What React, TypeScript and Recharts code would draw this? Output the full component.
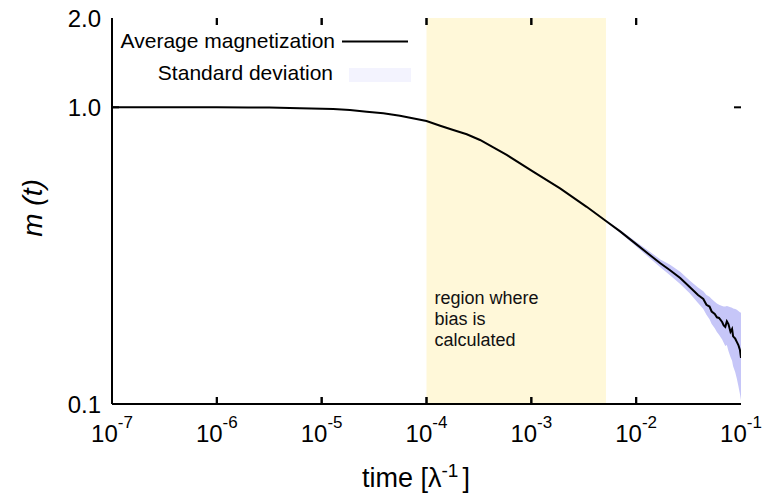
import React from 'react';
import { ComposedChart, Line, Area, Scatter, XAxis, YAxis, ReferenceArea, ReferenceLine, Legend } from 'recharts';

const times = [1e-7, 3.16e-7, 1e-6, 2e-6, 3.16e-6, 6.21e-6, 1.29e-5, 1.86e-5, 2.69e-5, 3.87e-5, 5.58e-5, 1e-4, 1.35e-4, 1.8e-4, 2.42e-4, 3.24e-4, 4.34e-4, 5.82e-4, 1.04e-3, 1.88e-3, 3.37e-3, 5.15e-3, 7.08e-3, 9.4e-3, 1.35e-2, 1.7e-2, 2.09e-2, 2.63e-2, 3.24e-2, 3.89e-2, 4.37e-2, 4.68e-2, 5.01e-2, 5.25e-2, 5.62e-2, 5.89e-2, 6.17e-2, 6.61e-2, 6.84e-2, 7.08e-2, 7.33e-2, 7.59e-2, 7.94e-2, 8.22e-2, 8.41e-2, 8.81e-2, 9.12e-2, 9.44e-2, 9.77e-2, 1e-1];
const meanM = [1.0, 1.0, 1.0, 0.999, 0.998, 0.993, 0.987, 0.979, 0.966, 0.955, 0.937, 0.899, 0.867, 0.839, 0.811, 0.776, 0.733, 0.691, 0.607, 0.533, 0.462, 0.414, 0.381, 0.352, 0.318, 0.298, 0.283, 0.266, 0.248, 0.233, 0.226, 0.216, 0.213, 0.205, 0.201, 0.196, 0.195, 0.189, 0.184, 0.182, 0.19, 0.186, 0.175, 0.179, 0.169, 0.166, 0.162, 0.158, 0.152, 0.143];
const bandLow = [1.0, 1.0, 1.0, 0.999, 0.998, 0.993, 0.987, 0.979, 0.966, 0.955, 0.937, 0.899, 0.867, 0.839, 0.811, 0.776, 0.733, 0.691, 0.607, 0.533, 0.462, 0.412, 0.377, 0.346, 0.31, 0.289, 0.272, 0.254, 0.236, 0.219, 0.209, 0.2, 0.193, 0.186, 0.18, 0.175, 0.171, 0.165, 0.161, 0.157, 0.158, 0.151, 0.144, 0.14, 0.134, 0.128, 0.122, 0.115, 0.108, 0.103];
const bandHigh = [1.0, 1.0, 1.0, 0.999, 0.998, 0.993, 0.987, 0.979, 0.966, 0.955, 0.937, 0.899, 0.867, 0.839, 0.811, 0.776, 0.733, 0.691, 0.607, 0.533, 0.462, 0.416, 0.385, 0.358, 0.326, 0.307, 0.295, 0.279, 0.261, 0.247, 0.24, 0.233, 0.23, 0.226, 0.221, 0.218, 0.216, 0.214, 0.213, 0.213, 0.214, 0.213, 0.212, 0.211, 0.21, 0.209, 0.208, 0.206, 0.204, 0.203];

const xTicks = [1e-7, 1e-6, 1e-5, 1e-4, 1e-3, 1e-2, 1e-1];
const xTickExps = ['-7', '-6', '-5', '-4', '-3', '-2', '-1'];
const yTicks = [0.1, 1, 2];
const yTickLabels = ['0.1', '1.0', '2.0'];
const xDomain = [1e-7, 1e-1];
const yDomain = [0.1, 2];
const biasRegion = [1e-4, 5.15e-3];
const legendNames = ['Average magnetization', 'Standard deviation'];
const regionLines = ['region where', 'bias is', 'calculated'];

const data = times.map((t, i) => ({ t, m: meanM[i], band: [bandLow[i], bandHigh[i]] }));
const xTickMarks = xTicks.slice(1, -1).flatMap((v) => [
  { t: v, m: yDomain[0], side: 'bottom' },
  { t: v, m: yDomain[1], side: 'top' },
]);

const FONT = '"Liberation Sans", Arial, Helvetica, sans-serif';
const TICK_LEN = 7;
const TICK_W = 2;

const BottomTick = (props: any) => {
  const { x, y, payload } = props;
  const i = xTicks.indexOf(payload.value);
  return (
    <text x={x} y={y + 38} textAnchor="middle" fontSize={24} fontFamily={FONT} fill="#000">
      <tspan>10</tspan>
      <tspan dy={-14} fontSize={17}>{xTickExps[i]}</tspan>
    </text>
  );
};

const LeftTick = (props: any) => {
  const { x, y, payload } = props;
  const i = yTicks.indexOf(payload.value);
  return (
    <text x={x - 11} y={y + 8.5} textAnchor="end" fontSize={24} fontFamily={FONT} fill="#000">
      {yTickLabels[i]}
    </text>
  );
};

const XTickMark = (props: any) => {
  const { cx, cy, payload } = props;
  if (typeof cx !== 'number' || typeof cy !== 'number') return <g />;
  const dir = payload && payload.side === 'top' ? 1 : -1;
  return <rect x={cx - TICK_W / 2} y={dir > 0 ? cy : cy - TICK_LEN} width={TICK_W} height={TICK_LEN} fill="#000" />;
};

// zero-width reference area at a tick value: draw inward marks at its top and bottom
const XTickArea = (props: any) => {
  const x = Number(props.x);
  const y = Number(props.y);
  const h = Number(props.height);
  if ([x, y, h].some((v) => isNaN(v))) return <g />;
  const top = Math.min(y, y + h);
  const bot = Math.max(y, y + h);
  return (
    <g>
      <rect x={x - TICK_W / 2} y={top} width={TICK_W} height={TICK_LEN} fill="#000" />
      <rect x={x - TICK_W / 2} y={bot - TICK_LEN} width={TICK_W} height={TICK_LEN} fill="#000" />
    </g>
  );
};

const YTickPair = (props: any) => {
  const n = [props.x1, props.y1, props.x2, props.y2].map((v: any) => Number(v));
  if (n.some((v) => isNaN(v))) return null;
  const [ax, ay, bx] = n;
  const left = Math.min(ax, bx);
  const right = Math.max(ax, bx);
  return (
    <g>
      <rect x={left} y={ay - TICK_W / 2} width={TICK_LEN} height={TICK_W} fill="#000" />
      <rect x={right - TICK_LEN} y={ay - TICK_W / 2} width={TICK_LEN} height={TICK_W} fill="#000" />
    </g>
  );
};

const XLabel = (props: any) => {
  const vb = props.viewBox || { x: 112, y: 404, width: 629 };
  return (
    <text x={vb.x + 250} y={vb.y + 83} textAnchor="start" fontSize={27} fontFamily={FONT} fill="#000">
      <tspan>time [λ</tspan>
      <tspan dy={-10} fontSize={19}>-1</tspan>
      <tspan dy={10} dx={4}>]</tspan>
    </text>
  );
};

const YLabel = (props: any) => {
  const vb = props.viewBox || { x: 0, y: 18, width: 112, height: 386 };
  const cx = vb.x + 32;
  const cy = vb.y + vb.height / 2 - 3;
  return (
    <text x={cx} y={cy} transform={`rotate(-90 ${cx} ${cy})`} textAnchor="middle" dominantBaseline="central" fontSize={28} fontStyle="italic" fontFamily={FONT} fill="#000">
      m (t)
    </text>
  );
};

const RegionLabel = (props: any) => {
  const vb = props.viewBox || { x: 426, y: 18 };
  return (
    <text x={vb.x + 8} y={vb.y + 286} fontSize={18} fontFamily={FONT} fill="#111">
      {regionLines.map((s, i) => (
        <tspan key={i} x={vb.x + 8} dy={i === 0 ? 0 : 21}>{s}</tspan>
      ))}
    </text>
  );
};

const LegendContent = () => (
  <svg width={762} height={100} style={{ display: 'block' }}>
    <text x={335} y={48} textAnchor="end" fontSize={21} fontFamily={FONT} fill="#000">{legendNames[0]}</text>
    <line x1={342} x2={408} y1={41.5} y2={41.5} stroke="#000" strokeWidth={2} />
    <text x={333} y={80} textAnchor="end" fontSize={21} fontFamily={FONT} fill="#000">{legendNames[1]}</text>
    <rect x={349} y={68} width={62} height={14} fill="#f3f3fe" />
  </svg>
);

const AXIS_LINE = { stroke: '#000', strokeWidth: 2 };

export default function App() {
  return (
    <div style={{ position: 'absolute', left: 0, top: 0, width: 762, height: 494, overflow: 'hidden', background: '#fff' }}>
      <ComposedChart width={762} height={494} data={data} margin={{ top: 18, right: 21, bottom: 0, left: 0 }}>
        <ReferenceArea
          xAxisId="bottom"
          yAxisId="left"
          x1={biasRegion[0]}
          x2={biasRegion[1]}
          y1={yDomain[0]}
          y2={yDomain[1]}
          fill="#fff8d9"
          fillOpacity={1}
          stroke="none"
          label={RegionLabel}
        />
        {xTicks.slice(1, -1).map((v) => (
          <ReferenceArea
            key={`xa${v}`}
            xAxisId="bottom"
            yAxisId="left"
            x1={v}
            x2={v}
            y1={yDomain[0]}
            y2={yDomain[1]}
            shape={XTickArea}
          />
        ))}
        <Area
          xAxisId="bottom"
          yAxisId="left"
          dataKey="band"
          type="linear"
          stroke="none"
          fill="#c6c6f8"
          fillOpacity={1}
          isAnimationActive={false}
          name={legendNames[1]}
        />
        <Line
          xAxisId="bottom"
          yAxisId="left"
          dataKey="m"
          type="linear"
          stroke="#000"
          strokeWidth={2}
          dot={false}
          isAnimationActive={false}
          name={legendNames[0]}
        />
        <Scatter
          xAxisId="bottom"
          yAxisId="left"
          data={xTickMarks}
          dataKey="m"
          shape={XTickMark}
          isAnimationActive={false}
          legendType="none"
        />
        {yTicks.slice(1, -1).map((v) => (
          <ReferenceLine key={`yt${v}`} xAxisId="bottom" yAxisId="left" y={v} ifOverflow="extendDomain" shape={YTickPair} />
        ))}
        <XAxis
          xAxisId="bottom"
          dataKey="t"
          type="number"
          scale="log"
          domain={xDomain}
          allowDataOverflow
          ticks={xTicks}
          interval={0}
          height={90}
          tickSize={0}
          tickMargin={0}
          tickLine={false}
          axisLine={AXIS_LINE}
          tick={<BottomTick />}
          label={XLabel}
        />
        <XAxis
          xAxisId="top"
          dataKey="t"
          type="number"
          scale="log"
          orientation="top"
          domain={xDomain}
          allowDataOverflow
          ticks={xTicks}
          height={0}
          tickLine={false}
          axisLine={AXIS_LINE}
          tick={false}
        />
        <YAxis
          yAxisId="left"
          type="number"
          scale="log"
          domain={yDomain}
          allowDataOverflow
          ticks={yTicks}
          interval={0}
          width={112}
          tickSize={0}
          tickMargin={0}
          tickLine={false}
          axisLine={AXIS_LINE}
          tick={<LeftTick />}
          label={YLabel}
        />
        <YAxis
          yAxisId="right"
          orientation="right"
          type="number"
          scale="log"
          domain={yDomain}
          allowDataOverflow
          ticks={yTicks}
          width={0}
          tickLine={false}
          axisLine={AXIS_LINE}
          tick={false}
        />
        <Legend
          layout="horizontal"
          verticalAlign="middle"
          align="center"
          wrapperStyle={{ left: 0, top: 0, width: 762, height: 100, pointerEvents: 'none' }}
          content={LegendContent}
        />
      </ComposedChart>
    </div>
  );
}
